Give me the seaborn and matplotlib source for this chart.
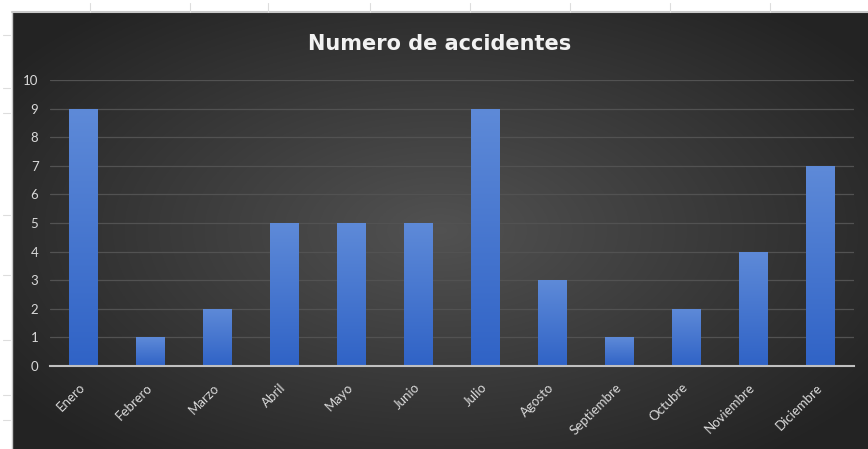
import numpy as np
import pandas as pd
import matplotlib
matplotlib.use("Agg")
import matplotlib.pyplot as plt
import seaborn as sns

meses = ["Enero", "Febrero", "Marzo", "Abril", "Mayo", "Junio", "Julio",
         "Agosto", "Septiembre", "Octubre", "Noviembre", "Diciembre"]
accidentes = [9, 1, 2, 5, 5, 5, 9, 3, 1, 2, 4, 7]
y_ticks = list(range(0, 11))
titulo = "Numero de accidentes"

sns.set_theme(style="dark")
plt.rcParams['font.family'] = ['Lato', 'DejaVu Sans']

W, H = 868, 449
fig = plt.figure(figsize=(W / 100, H / 100), dpi=100, facecolor="white")

# dark chart area with radial gradient
bx0, by0 = 12 / W, 0.0
bg = fig.add_axes([bx0, by0, 1 - bx0, 1 - 12 / H - by0])
yy, xx = np.mgrid[0:1:300j, 0:1:600j]
r = np.sqrt(((xx - 0.5) / 0.75) ** 2 + ((yy - 0.5) / 0.8) ** 2)
val = np.clip(0.32 - 0.22 * r, 0.14, 0.32)
img = np.dstack([val, val, val])
bg.imshow(img, aspect="auto", extent=[0, 1, 0, 1], origin="lower")
bg.set_axis_off()

# spreadsheet hints
fig.add_artist(plt.Line2D([bx0, 1], [1 - 12 / H, 1 - 12 / H], color="#c8c8c8", lw=1.5))
fig.add_artist(plt.Line2D([bx0, bx0], [0, 1 - 12 / H], color="#c8c8c8", lw=1))
for px in [90, 190, 268, 370, 470, 570, 670, 770]:
    fig.add_artist(plt.Line2D([px / W, px / W], [1 - 12 / H, 1 - 3 / H], color="#dddddd", lw=0.8))
for py in [35, 88, 113, 215, 275, 340, 395, 420]:
    fig.add_artist(plt.Line2D([3 / W, 10 / W], [1 - py / H, 1 - py / H], color="#dddddd", lw=0.8))

# main axes: x from 49.5 to 853.5 px, y from 366 (0) to 80 (10)
ax = fig.add_axes([49.5 / W, 1 - 366 / H, (853.5 - 49.5) / W, (366 - 80) / H])
ax.patch.set_alpha(0)
df = pd.DataFrame({"mes": meses, "n": accidentes})
sns.barplot(data=df, x="mes", y="n", ax=ax, color="#4472c4", width=0.42,
            saturation=1, edgecolor="none")

# gradient on bars
for p in ax.patches:
    x0 = p.get_x(); w = p.get_width(); h = p.get_height()
    grad = np.linspace(0, 1, 100).reshape(-1, 1)
    c_top = np.array([0x5e, 0x8a, 0xd8]) / 255
    c_bot = np.array([0x30, 0x63, 0xc6]) / 255
    cols = c_bot + (c_top - c_bot) * grad
    im = ax.imshow(cols[:, None, :].repeat(2, axis=1), extent=[x0, x0 + w, 0, h],
                   origin="lower", aspect="auto", zorder=p.get_zorder() + 0.1)
    im.set_clip_path(p)

ax.set_xlim(-0.5, 11.5)
ax.set_ylim(0, 10)
ax.set_yticks(y_ticks)
ax.set_yticklabels([str(t) for t in y_ticks])
ax.grid(axis="y", color="#525252", lw=0.9)
ax.grid(axis="x", visible=False)
ax.set_axisbelow(True)
for s in ["top", "right", "left"]:
    ax.spines[s].set_visible(False)
ax.spines["bottom"].set_color("#c0c0c0")
ax.spines["bottom"].set_linewidth(1.5)
ax.set_xlabel("")
ax.set_ylabel("")
ax.tick_params(axis="y", colors="#d9d9d9", labelsize=9.5, length=0, pad=8)
ax.tick_params(axis="x", colors="#d9d9d9", labelsize=9.5, length=0, pad=14)
for lab in ax.get_xticklabels():
    lab.set_rotation(45)
    lab.set_ha("right")
    lab.set_va("center")
    lab.set_rotation_mode("anchor")

fig.text(440 / W, 1 - 44 / H, titulo, color="#f2f2f2", fontsize=15,
         fontweight="bold", ha="center", va="center", family="DejaVu Sans")

fig.savefig("out.png", dpi=100, facecolor="white")
